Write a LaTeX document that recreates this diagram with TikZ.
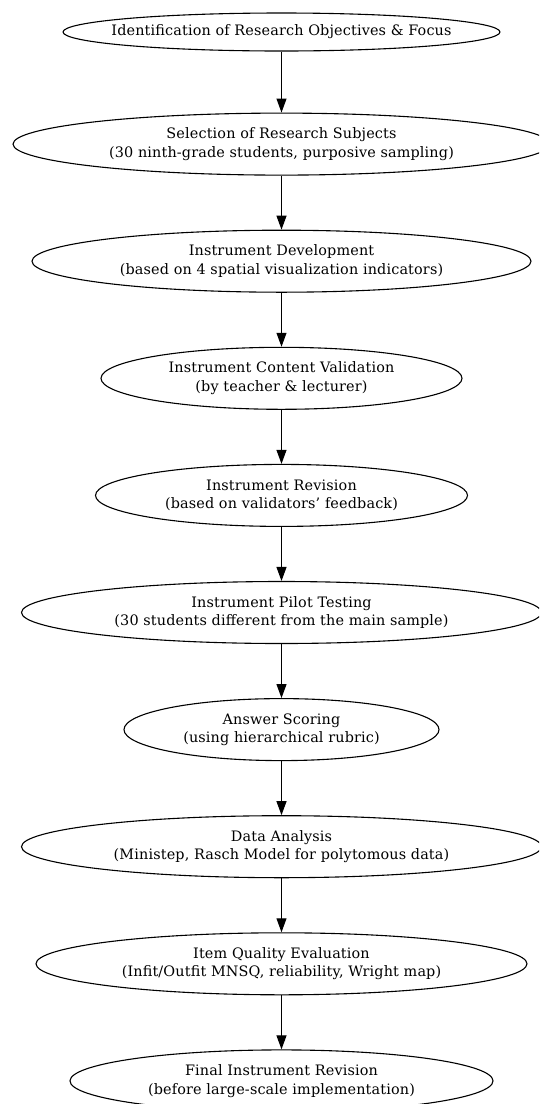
\documentclass[tikz,border=0pt]{standalone}
\usepackage{fontspec}
\setmainfont{DejaVu Serif}[LetterSpace=1]
\usepackage{tikz}
\usetikzlibrary{shapes.geometric, arrows.meta, positioning}
\tikzset{
  stage/.style={
    ellipse, draw=black, line width=1.1pt,
    inner sep=-150pt, minimum height=62pt,
    align=center, font=\fontsize{14.4}{18.5}\selectfont,
  },
  arrow/.style={-{Triangle[length=14pt, width=10pt]}, line width=1.1pt, color=black},
}

\begin{document}
\begin{tikzpicture}[x=1pt, y=1pt, node distance=54pt]
  \useasboundingbox (0,0) rectangle (539,-1104);
  \clip (0,0) rectangle (539,-1104);

  \node[stage, minimum width=437pt, minimum height=38pt] (ident) at (281.5,-32)
    {Identification of Research Objectives \& Focus};
  \node[stage, minimum width=537pt, below=61pt of ident] (subj)
    {Selection of Research Subjects\\(30 ninth-grade students, purposive sampling)};
  \node[stage, minimum width=499pt, below=of subj] (dev)
    {Instrument Development\\(based on 4 spatial visualization indicators)};
  \node[stage, minimum width=361pt, below=of dev] (valid)
    {Instrument Content Validation\\(by teacher \& lecturer)};
  \node[stage, minimum width=372pt, below=of valid] (revis)
    {Instrument Revision\\(based on validators’ feedback)};
  \node[stage, minimum width=520pt, below=of revis] (pilot)
    {Instrument Pilot Testing\\(30 students different from the main sample)};
  \node[stage, minimum width=315pt, below=of pilot] (scoring)
    {Answer Scoring\\(using hierarchical rubric)};
  \node[stage, minimum width=520pt, below=of scoring] (analysis)
    {Data Analysis\\(Ministep, Rasch Model for polytomous data)};
  \node[stage, minimum width=491pt, below=of analysis] (evalq)
    {Item Quality Evaluation\\(Infit/Outfit MNSQ, reliability, Wright map)};
  \node[stage, minimum width=423pt, below=of evalq] (final)
    {Final Instrument Revision\\(before large-scale implementation)};

  \draw[arrow] (ident) -- (subj);
  \draw[arrow] (subj) -- (dev);
  \draw[arrow] (dev) -- (valid);
  \draw[arrow] (valid) -- (revis);
  \draw[arrow] (revis) -- (pilot);
  \draw[arrow] (pilot) -- (scoring);
  \draw[arrow] (scoring) -- (analysis);
  \draw[arrow] (analysis) -- (evalq);
  \draw[arrow] (evalq) -- (final);

\end{tikzpicture}
\end{document}
